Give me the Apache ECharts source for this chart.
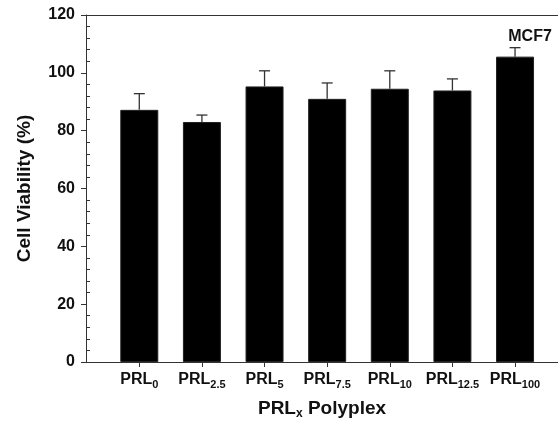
<!DOCTYPE html>
<html><head><meta charset="utf-8">
<script src="https://cdn.jsdelivr.net/npm/echarts@6/dist/echarts.min.js"></script>
<style>html,body{margin:0;padding:0;background:#fff}#c{width:558px;height:439px}</style>
</head><body><div id="c"></div>
<script>
var categories = ['0', '2.5', '5', '7.5', '10', '12.5', '100'];
var viability = [87.2, 83.0, 95.3, 91.0, 94.5, 93.9, 105.6];
var errors = [5.6, 2.4, 5.4, 5.5, 6.2, 4.0, 3.1];
var yTicks = [0, 20, 40, 60, 80, 100, 120];
var annotation = 'MCF7';
var annotationIndex = 6;

var FONT = 'Liberation Sans, Arial, sans-serif';
var AX = '#333';
var positions = categories.map(function (c, i) { return i; });

var chart = echarts.init(document.getElementById('c'), null, {renderer: 'canvas'});
chart.setOption({
  animation: false,
  backgroundColor: '#fff',
  grid: {left: 86, top: 15, right: 0, bottom: 77, containLabel: false},
  xAxis: [{
    type: 'value', min: -0.851, max: 6.686,
    splitLine: {show: false},
    axisLine: {show: true, onZero: false, lineStyle: {color: AX, width: 1}},
    axisTick: {show: true, customValues: positions, length: 5, lineStyle: {color: AX}},
    axisLabel: {
      show: true, customValues: positions, margin: 9,
      formatter: function (v) { return '{b|PRL}{s|' + categories[Math.round(v)] + '}'; },
      rich: {
        b: {fontFamily: FONT, fontWeight: 'bold', fontSize: 16, color: '#111', lineHeight: 18},
        s: {fontFamily: FONT, fontWeight: 'bold', fontSize: 11, color: '#111', lineHeight: 18, padding: [10, 0, 0, 0]}
      }
    },
    name: '{b|PRL}{s|x}{b| Polyplex}', nameLocation: 'middle', nameGap: 36,
    nameTextStyle: {
      rich: {
        b: {fontFamily: FONT, fontWeight: 'bold', fontSize: 19, color: '#111', lineHeight: 22},
        s: {fontFamily: FONT, fontWeight: 'bold', fontSize: 12, color: '#111', lineHeight: 22, padding: [10, 0, 0, 0]}
      }
    }
  }, {
    type: 'value', position: 'top', min: -0.851, max: 6.686,
    splitLine: {show: false}, axisTick: {show: false}, axisLabel: {show: false},
    axisLine: {show: true, onZero: false, lineStyle: {color: AX, width: 1}}
  }],
  yAxis: [{
    type: 'value', min: 0, max: 120, interval: 20,
    splitLine: {show: false},
    axisLine: {show: true, onZero: false, lineStyle: {color: AX, width: 1}},
    axisTick: {show: true, length: 5, lineStyle: {color: AX}},
    axisLabel: {fontFamily: FONT, fontWeight: 'bold', fontSize: 16, color: '#111', margin: 11,
      customValues: yTicks},
    name: 'Cell Viability (%)', nameLocation: 'middle', nameGap: 52,
    nameTextStyle: {fontFamily: FONT, fontWeight: 'bold', fontSize: 19, color: '#111'}
  }, {
    type: 'value', min: 0, max: 120, interval: 20, position: 'left',
    splitLine: {show: false}, axisLine: {show: false, onZero: false}, axisLabel: {show: false},
    axisTick: {show: false, inside: true},
    minorTick: {show: true, splitNumber: 5, length: 4, lineStyle: {color: AX}}
  }],
  series: [{
    type: 'bar', xAxisIndex: 0, yAxisIndex: 0, barWidth: 38,
    itemStyle: {color: '#000', borderColor: '#222', borderWidth: 1},
    data: viability.map(function (v, i) { return [positions[i], v]; }),
    z: 2
  }, {
    type: 'custom', xAxisIndex: 0, yAxisIndex: 0, z: 3,
    data: viability.map(function (v, i) { return [positions[i], v, errors[i]]; }),
    renderItem: function (params, api) {
      var x = api.value(0), v = api.value(1), e = api.value(2);
      var p0 = api.coord([x, v]);
      var p1 = api.coord([x, v + e]);
      var hw = 5.5;
      var style = {stroke: '#333', lineWidth: 1.3};
      var children = [
        {type: 'line', shape: {x1: p0[0], y1: p0[1], x2: p1[0], y2: p1[1]}, style: style},
        {type: 'line', shape: {x1: p1[0] - hw, y1: p1[1], x2: p1[0] + hw, y2: p1[1]}, style: style}
      ];
      if (params.dataIndex === annotationIndex) {
        children.push({type: 'text', x: p1[0] + 15, y: p1[1] - 3,
          style: {text: annotation, fontFamily: FONT, fontWeight: 'bold', fontSize: 16, fill: '#111',
            textAlign: 'center', textVerticalAlign: 'bottom'}});
      }
      return {type: 'group', children: children};
    }
  }]
});
</script></body></html>
